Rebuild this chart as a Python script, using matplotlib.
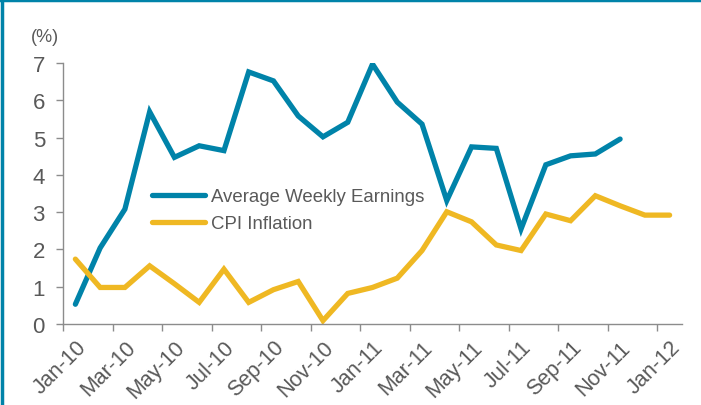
import matplotlib
matplotlib.use("Agg")
import matplotlib.pyplot as plt
from matplotlib.lines import Line2D

months = ["Jan-10", "Feb-10", "Mar-10", "Apr-10", "May-10", "Jun-10", "Jul-10", "Aug-10",
          "Sep-10", "Oct-10", "Nov-10", "Dec-10", "Jan-11", "Feb-11", "Mar-11", "Apr-11",
          "May-11", "Jun-11", "Jul-11", "Aug-11", "Sep-11", "Oct-11", "Nov-11", "Dec-11",
          "Jan-12"]
awe = [0.53, 2.04, 3.08, 5.69, 4.47, 4.78, 4.65, 6.76, 6.52, 5.58, 5.02, 5.41,
       6.97, 5.95, 5.36, 3.31, 4.75, 4.71, 2.55, 4.27, 4.51, 4.56, 4.96]
cpi = [1.74, 0.98, 0.98, 1.56, 1.08, 0.58, 1.47, 0.58, 0.92, 1.14, 0.09, 0.82,
       0.98, 1.23, 1.97, 3.01, 2.74, 2.12, 1.97, 2.95, 2.77, 3.44, 3.17, 2.92, 2.92]
yticks = [0, 1, 2, 3, 4, 5, 6, 7]

BLUE = "#0083A9"
YELLOW = "#EFB823"
GRAY_TXT = "#595959"
AXIS = "#8C8C8C"

plt.rcParams['font.family'] = ['Liberation Sans', 'DejaVu Sans']

W, H = 701, 406
fig = plt.figure(figsize=(W / 100, H / 100), dpi=100)
ax = fig.add_axes([63 / W, 1 - 325 / H, (682 - 63) / W, (325 - 64) / H])

x_awe = list(range(len(awe)))
x_cpi = list(range(len(cpi)))
l1, = ax.plot(x_awe, awe, color=BLUE, lw=3.8, solid_joinstyle='miter', solid_capstyle='round',
              label="Average Weekly Earnings")
l2, = ax.plot(x_cpi, cpi, color=YELLOW, lw=3.8, solid_joinstyle='miter', solid_capstyle='round',
              label="CPI Inflation")

ax.set_xlim(-0.5, len(months) - 0.5)
ax.set_ylim(0, 7)
ax.set_yticks(yticks)
ax.set_yticklabels([str(v) for v in yticks], fontsize=16, color=GRAY_TXT)

# Category labels every 2 months, tick marks between categories
label_pos = list(range(0, len(months), 2))
ax.set_xticks(label_pos)
ax.set_xticklabels([months[i] for i in label_pos], rotation=45, ha='right',
                   rotation_mode='anchor', fontsize=15.5, color=GRAY_TXT)
ax.tick_params(axis='x', which='major', length=0, pad=9)
ax.set_xticks([i - 0.5 for i in label_pos], minor=True)
ax.tick_params(axis='x', which='minor', length=5, color=AXIS, width=1)
ax.tick_params(axis='y', length=5, color=AXIS, width=1, pad=8)

for s in ['top', 'right']:
    ax.spines[s].set_visible(False)
for s in ['left', 'bottom']:
    ax.spines[s].set_color(AXIS)
    ax.spines[s].set_linewidth(1)

fig.text(45 / W, 1 - 37 / H, "(%)", fontsize=13, color=GRAY_TXT, ha='center', va='center')

leg = ax.legend(handles=[l1, l2], loc='upper left',
                bbox_to_anchor=(152 / W, 1 - 189 / H), bbox_transform=fig.transFigure,
                frameon=False, fontsize=13.4, handlelength=2.85, handletextpad=0.3,
                labelspacing=0.55, borderpad=0, borderaxespad=0)
for t in leg.get_texts():
    t.set_color(GRAY_TXT)

# frame lines on top and left edges of the figure
fig.add_artist(Line2D([2 / W, 2 / W], [0, 1], transform=fig.transFigure, color=BLUE, lw=2.5))
fig.add_artist(Line2D([0, 1], [1 - 1 / H, 1 - 1 / H], transform=fig.transFigure, color=BLUE, lw=2.5))

fig.savefig("out.png", dpi=100)
